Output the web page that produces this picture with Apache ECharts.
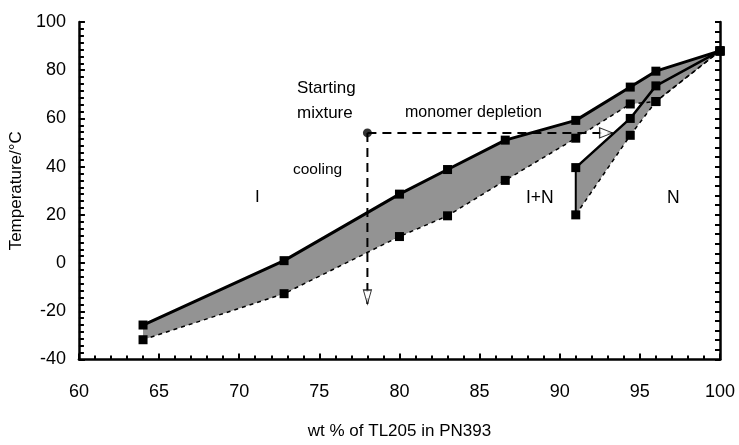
<!DOCTYPE html>
<html>
<head>
<meta charset="utf-8">
<script src="https://cdn.jsdelivr.net/npm/echarts@6/dist/echarts.min.js"></script>
<style>html,body{margin:0;padding:0;background:#fff;}#c{width:739px;height:445px;}</style>
</head>
<body>
<div id="c"></div>
<script>
// ---- data ----
var xBand1 = [64, 72.8, 80, 83, 86.6, 91, 94.4, 96, 100];
var upper1 = [-25.7, 1, 28.6, 38.8, 51, 59.2, 73, 79.6, 88];
var lower1 = [-31.8, -12.7, 11, 19.6, 34.3, 51.8, 66, 67, 88];
var xBand2 = [91, 94.4, 96, 100];
var upper2 = [39.6, 60, 73.5, 88];
var lower2 = [20, 53, 67, 88];
var startPoint = [78, 54];
var depletionEnd = [93.3, 54];
var coolingEnd = [78, -17];
var xTicks = [60, 65, 70, 75, 80, 85, 90, 95, 100];
var yTicks = [-40, -20, 0, 20, 40, 60, 80, 100];

function pairs(xs, ys) { return xs.map(function (x, i) { return [x, ys[i]]; }); }
function bandPolygon(xs, up, lo) {
  var pts = pairs(xs, up);
  var low = pairs(xs, lo).reverse();
  return pts.concat(low);
}

var FONT = '"Liberation Sans", Arial, sans-serif';
var chart = echarts.init(document.getElementById('c'), null, { renderer: 'canvas' });

function bandSeries(poly) {
  return {
    type: 'custom',
    coordinateSystem: 'cartesian2d',
    data: [[0, 0]],
    silent: true,
    z: 1,
    renderItem: function (params, api) {
      var p = poly.map(function (v) { return api.coord(v); });
      return { type: 'polygon', shape: { points: p }, style: { fill: '#939393', stroke: null } };
    }
  };
}

function label(text, x, y, size) {
  return { type: 'text', x: x, y: y, style: { text: text, font: size + 'px ' + FONT, fill: '#000', align: 'left', verticalAlign: 'middle' } };
}

var sq = { symbol: 'rect', symbolSize: 9, itemStyle: { color: '#000' } };

var option = {
  animation: false,
  backgroundColor: '#fff',
  grid: { left: 77, right: 19, top: 22, bottom: 80 },
  xAxis: {
    type: 'value', min: xTicks[0], max: xTicks[xTicks.length - 1], interval: 5,
    name: 'wt % of TL205 in PN393', nameLocation: 'middle', nameGap: 72,
    nameTextStyle: { fontFamily: FONT, fontSize: 17, color: '#000', verticalAlign: 'middle' },
    axisLine: { onZero: false, lineStyle: { color: '#000', width: 2.5 } },
    axisTick: { inside: true, length: 6, lineStyle: { color: '#000', width: 2 } },
    minorTick: { show: true, splitNumber: 5, length: 4, lineStyle: { color: '#000', width: 2 } },
    axisLabel: { margin: 24, fontFamily: FONT, fontSize: 18, color: '#000' },
    splitLine: { show: false }
  },
  yAxis: [{
    type: 'value', min: yTicks[0], max: yTicks[yTicks.length - 1], interval: 20,
    name: 'Temperature/°C', nameLocation: 'middle', nameGap: 58, nameRotate: 90,
    nameTextStyle: { fontFamily: FONT, fontSize: 17, color: '#000', verticalAlign: 'middle' },
    axisLine: { onZero: false, lineStyle: { color: '#000', width: 2.5 } },
    axisTick: { inside: true, length: 6, lineStyle: { color: '#000', width: 2 } },
    minorTick: { show: true, splitNumber: 7, length: 5, lineStyle: { color: '#000', width: 2 } },
    axisLabel: { margin: 13, fontFamily: FONT, fontSize: 18, color: '#000' },
    splitLine: { show: false }
  }, {
    type: 'value', min: yTicks[0], max: yTicks[yTicks.length - 1], interval: 20, position: 'right',
    axisLine: { show: true, onZero: false, lineStyle: { color: '#000', width: 2.5 } },
    axisTick: { inside: true, length: 5, lineStyle: { color: '#000', width: 2 } },
    minorTick: { show: true, splitNumber: 5, length: 5, lineStyle: { color: '#000', width: 2 } },
    axisLabel: { show: false },
    splitLine: { show: false }
  }],
  graphic: [
    label('Starting', 297, 88, 17),
    label('mixture', 297, 113, 17),
    label('cooling', 293, 170, 15.5),
    label('I', 255, 197, 17),
    label('monomer depletion', 405, 113, 16),
    label('I+N', 526, 198, 17.5),
    label('N', 667, 198, 17.5)
  ],
  series: [
    bandSeries(bandPolygon(xBand1, upper1, lower1)),
    bandSeries(bandPolygon(xBand2, upper2, lower2)),
    // band 1 boundaries
    Object.assign({ type: 'line', data: pairs(xBand1, upper1), z: 5,
      lineStyle: { color: '#000', width: 3 } }, sq),
    Object.assign({ type: 'line', data: pairs(xBand1, lower1), z: 5,
      lineStyle: { color: '#000', width: 1.5, type: [4, 4] } }, sq),
    // band 2 boundaries
    Object.assign({ type: 'line', data: pairs(xBand2, upper2), z: 5,
      lineStyle: { color: '#000', width: 2.5 } }, sq),
    Object.assign({ type: 'line', data: pairs(xBand2, lower2), z: 5,
      lineStyle: { color: '#000', width: 1.5, type: [4, 4] } }, sq),
    { type: 'line', data: [[xBand2[0], lower2[0]], [xBand2[0], upper2[0]]], showSymbol: false, z: 4,
      lineStyle: { color: '#000', width: 2 } },
    // dashed paths
    { type: 'line', data: [startPoint, depletionEnd], showSymbol: false, z: 6,
      lineStyle: { color: '#000', width: 2, type: [9, 6] } },
    { type: 'line', data: [startPoint, coolingEnd], showSymbol: false, z: 6,
      lineStyle: { color: '#000', width: 2, type: [9, 6] } },
    { type: 'scatter', data: [startPoint], symbol: 'circle', symbolSize: 9, z: 8,
      itemStyle: { color: '#000' } },
    { type: 'scatter', data: [depletionEnd], symbol: 'triangle', symbolSize: [10, 13], symbolRotate: -90,
      symbolOffset: [-6.5, 0], z: 8, itemStyle: { color: '#fff', borderColor: '#000', borderWidth: 1.2 } },
    { type: 'scatter', data: [coolingEnd], symbol: 'triangle', symbolSize: [8, 14], symbolRotate: 180,
      symbolOffset: [0, -7], z: 8, itemStyle: { color: '#fff', borderColor: '#000', borderWidth: 1.2 } }
  ]
};
chart.setOption(option);
</script>
</body>
</html>
